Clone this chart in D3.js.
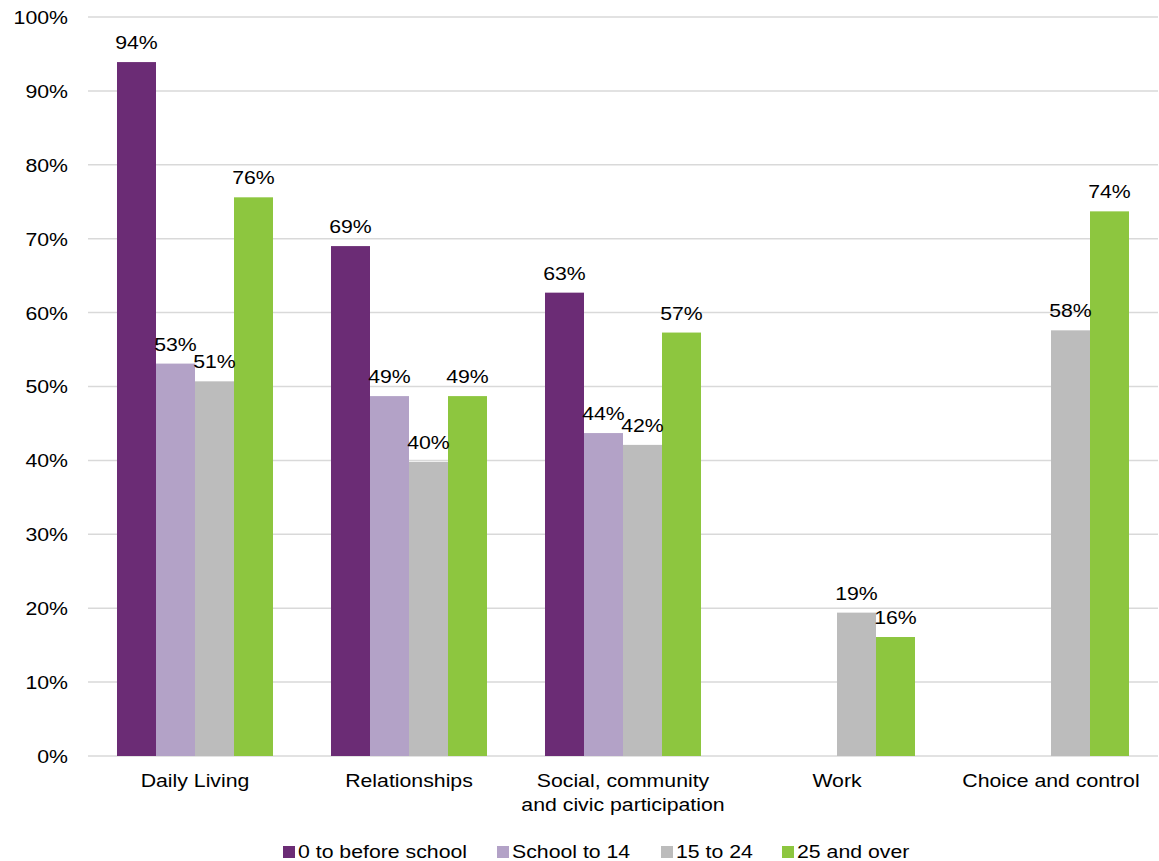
<!DOCTYPE html>
<html><head><meta charset="utf-8">
<script src="https://cdn.jsdelivr.net/npm/d3@7"></script>
<style>body{margin:0;background:#fff}svg{display:block;font-family:Arial,"Liberation Sans",sans-serif}</style>
</head><body>
<svg id="c" width="1159" height="861"></svg>
<script>
const categories = [["Daily Living"], ["Relationships"], ["Social, community", "and civic participation"], ["Work"], ["Choice and control"]];
const seriesNames = ["0 to before school", "School to 14", "15 to 24", "25 and over"];
const seriesColors = ["#6B2C75", "#B3A2C7", "#BCBCBC", "#8DC63F"];
const s0 = [93.9, 69.0, 62.7, null, null];
const s1 = [53.1, 48.7, 43.7, null, null];
const s2 = [50.7, 39.8, 42.1, 19.4, 57.6];
const s3 = [75.6, 48.7, 57.3, 16.1, 73.7];
const yTicks = [0, 10, 20, 30, 40, 50, 60, 70, 80, 90, 100];

(function(){
const series = [s0, s1, s2, s3];
const svg = d3.select("#c");
const mL = 88, mR = 1158, mT = 17, mB = 756;
const FS = 18.5, SX = 1.15;
const x0 = d3.scaleBand().domain(d3.range(categories.length)).range([mL, mR]).paddingInner(0.271).paddingOuter(0.1355);
const x1 = d3.scaleBand().domain(d3.range(series.length)).range([0, x0.bandwidth()]);
const y = d3.scaleLinear().domain([0, 100]).range([mB, mT]);

function txt(parent, x, yy, s, anchor) {
  return parent.append("text")
    .attr("transform", `translate(${x},${yy}) scale(${SX},1)`)
    .attr("text-anchor", anchor || "start")
    .attr("font-size", FS).attr("fill", "#000").text(s);
}

svg.append("g").selectAll("line").data(yTicks).join("line")
  .attr("x1", mL).attr("x2", mR)
  .attr("y1", d => y(d)).attr("y2", d => y(d))
  .attr("stroke", "#D9D9D9").attr("stroke-width", 1.5);

const yAxis = d3.axisLeft(y).tickValues(yTicks).tickFormat(d => d + "%").tickSize(0).tickPadding(20);
const ya = svg.append("g").attr("transform", `translate(${mL},0)`).call(yAxis);
ya.select(".domain").remove();
ya.selectAll("text").attr("font-size", FS).attr("fill", "#000")
  .attr("font-family", "Arial, 'Liberation Sans', sans-serif")
  .attr("x", null).attr("dy", "0.35em")
  .attr("transform", `translate(-20,0) scale(${SX},1)`);

series.forEach((vals, si) => {
  const g = svg.append("g");
  vals.forEach((v, ci) => {
    if (v == null) return;
    g.append("rect").attr("x", x0(ci) + x1(si)).attr("y", y(v))
      .attr("width", x1.bandwidth()).attr("height", y(0) - y(v))
      .attr("fill", seriesColors[si]);
  });
});
const lab = svg.append("g");
series.forEach((vals, si) => {
  vals.forEach((v, ci) => {
    if (v == null) return;
    txt(lab, x0(ci) + x1(si) + x1.bandwidth() / 2, y(v) - 13, Math.round(v) + "%", "middle");
  });
});

const cg = svg.append("g");
categories.forEach((lines, ci) => {
  const cx = x0(ci) + x0.bandwidth() / 2;
  lines.forEach((ln, i) => txt(cg, cx, 787 + i * 24, ln, "middle"));
});

const legX = [283, 497, 661, 782];
const lg = svg.append("g");
seriesNames.forEach((n, i) => {
  lg.append("rect").attr("x", legX[i]).attr("y", 846).attr("width", 12).attr("height", 12).attr("fill", seriesColors[i]);
  txt(lg, legX[i] + 15, 858, n);
});
})();
</script>
</body></html>
